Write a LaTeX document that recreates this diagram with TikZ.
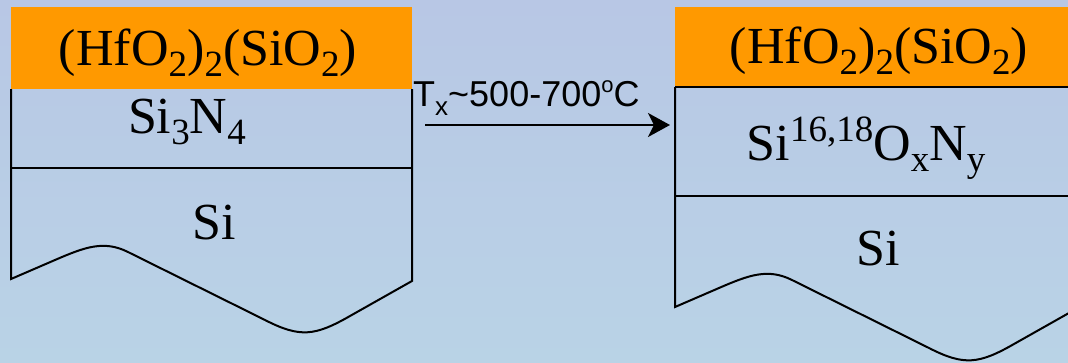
\documentclass[tikz,border=0pt]{standalone}
\usepackage{fontspec}
\setmainfont{Liberation Serif}
\newfontfamily\lsans{Liberation Sans}
\usetikzlibrary{arrows.meta}
\definecolor{bgtop}{RGB}{184,199,229}
\definecolor{bgbot}{RGB}{185,211,230}
\definecolor{oxide}{RGB}{255,153,0}
\newcommand\mysup[1]{\raisebox{0.36em}{\fontsize{37}{40}\selectfont #1}}
\newcommand\mysub[1]{\raisebox{-0.23em}{\fontsize{37}{40}\selectfont #1}}
\tikzset{
  layerline/.style={draw=black, line width=2pt, line join=miter},
  oxidebox/.style={fill=oxide, draw=none},
  big/.style={inner sep=0pt, anchor=base, font=\fontsize{52}{60}\selectfont},
  lab/.style={inner sep=0pt, anchor=base west, font=\lsans\fontsize{36}{40}\selectfont},
  arr/.style={draw=black, line width=2pt, -{Stealth[length=22pt, width=24pt, inset=6pt]}}
}
\begin{document}
\begin{tikzpicture}[x=1pt, y=-1pt]
\useasboundingbox (0,0) rectangle (1068,362);
\clip (0,0) rectangle (1068,362);
\shade[top color=bgtop, bottom color=bgbot] (0,0) rectangle (1068,362);
% left stack
\fill[oxidebox] (11,7) rectangle (412,89);
\draw[layerline] (11,89) -- (11,279)
  -- (55,260) .. controls (85,247) and (104,240) .. (128,252)
  -- (265,320) .. controls (300,338) and (315,336) .. (350,316)
  -- (412,281) -- (412,89);
\draw[layerline] (11,168) -- (412,168);
% right stack
\begin{scope}[shift={(664,28)}]
\draw[layerline] (11,59) -- (11,279)
  -- (55,260) .. controls (85,247) and (104,240) .. (128,252)
  -- (265,320) .. controls (300,338) and (315,336) .. (350,316)
  -- (412,281) -- (412,59);
\end{scope}
\fill[oxidebox] (675,7) rectangle (1080,87);
\draw[layerline] (675,87) -- (1080,87);
\draw[layerline] (675,196) -- (1080,196);
% texts
\node[big] (lox) at (208,65) {(HfO\mysub{2})\mysub{2}(SiO\mysub{2})};
\node[big] (lsin) at (187,133) {Si\mysub{3}N\mysub{4}};
\node[big] (lsi) at (214,239) {Si};
\node[big] (rox) at (879,63) {(HfO\mysub{2})\mysub{2}(SiO\mysub{2})};
\node[big] (rson) at (866,160) {Si\mysup{16,18}O\mysub{x}N\mysub{y}};
\node[big] (rsi) at (878,265) {Si};
% arrow
\coordinate (a1) at (425,125);
\coordinate (a2) at (670,125);
\draw[arr] (a1) -- (a2);
\node[lab] (tlab) at (413,106) {T\raisebox{-0.25em}{\fontsize{26}{30}\selectfont x}\textasciitilde500-700\raisebox{0.38em}{\fontsize{22}{26}\selectfont o}C};
\end{tikzpicture}
\end{document}
